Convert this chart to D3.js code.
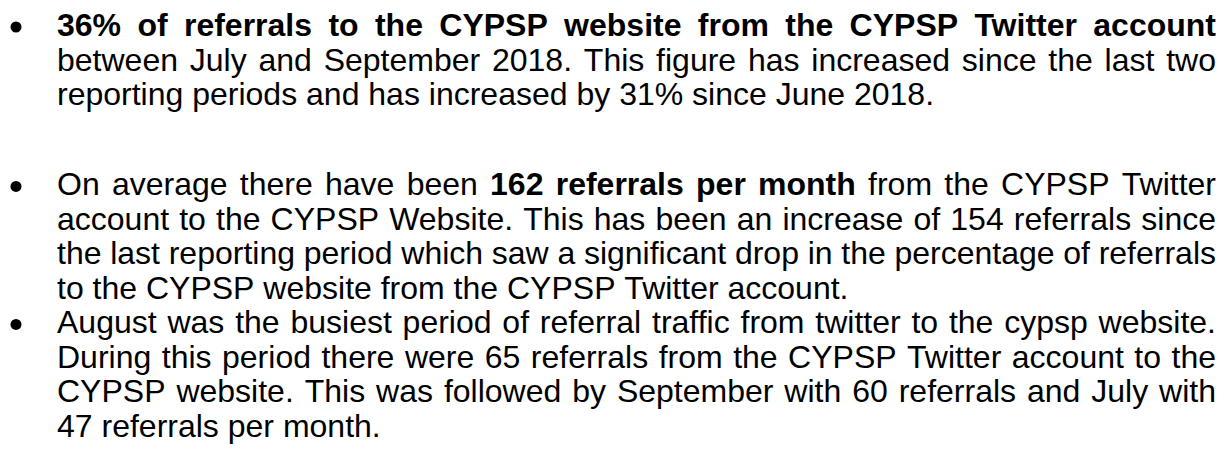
<!DOCTYPE html>
<html>
  <head>
    <meta charset="utf-8">
    <script src="https://d3js.org/d3.v7.min.js"></script>
    <style>
      body { margin: 0; background: #fff; }
      text { font-family: "Liberation Sans", Arial, sans-serif; font-size: 32px; fill: #000; }
    </style>
  </head>
  <body>
    <script>
      // each bullet is a list of lines, **...** marks bold words
      let bullet1 = [
        "**36% of referrals to the CYPSP website from the CYPSP Twitter account**",
        "between July and September 2018. This figure has increased since the last two",
        "reporting periods and has increased by 31% since June 2018."
      ];
      let bullet2 = [
        "On average there have been **162 referrals per month** from the CYPSP Twitter",
        "account to the CYPSP Website. This has been an increase of 154 referrals since",
        "the last reporting period which saw a significant drop in the percentage of referrals",
        "to the CYPSP website from the CYPSP Twitter account."
      ];
      let bullet3 = [
        "August was the busiest period of referral traffic from twitter to the cypsp website.",
        "During this period there were 65 referrals from the CYPSP Twitter account to the",
        "CYPSP website. This was followed by September with 60 referrals and July with",
        "47 referrals per month."
      ];
      let bullets = [bullet1, bullet2, bullet3];
      let firstLine = [0, 4.62, 8.62]; // line index where each bullet starts

      let width = 1230;
      let height = 449;
      let left = 57, right = 1216;
      let lineGap = 34.5;

      let svg = d3.select("body").append("svg")
                  .attr("width", width)
                  .attr("height", height);

      let y = d3.scaleLinear().domain([0, 1]).range([36, 36 + lineGap]);

      // width of one space in this font
      let t1 = svg.append("text").text("a a");
      let t2 = svg.append("text").text("aa");
      let spaceW = t1.node().getComputedTextLength() - t2.node().getComputedTextLength();
      t1.remove(); t2.remove();

      bullets.forEach((lines, b) => {
        svg.append("circle")
           .attr("cx", 16)
           .attr("cy", y(firstLine[b]) - 9)
           .attr("r", 5.5)
           .attr("fill", "#000");

        lines.forEach((line, i) => {
          let baseline = y(firstLine[b] + i);
          // split into words, keep bold flag
          let words = [];
          line.split("**").forEach((part, k) => {
            part.split(" ").filter(w => w.length).forEach(w => words.push({w: w, bold: k % 2 == 1}));
          });
          let nodes = words.map(d => svg.append("text")
                                        .attr("y", baseline)
                                        .attr("font-weight", d.bold ? "bold" : "normal")
                                        .text(d.w));
          let widths = nodes.map(n => n.node().getComputedTextLength());
          let last = i == lines.length - 1;
          // justified lines spread the spare room over the gaps
          let gap = last ? spaceW : (right - left - d3.sum(widths)) / (words.length - 1);
          let x = left;
          nodes.forEach((n, k) => {
            n.attr("x", x);
            x += widths[k] + gap;
          });
        });
      });
    </script>
  </body>
</html>
